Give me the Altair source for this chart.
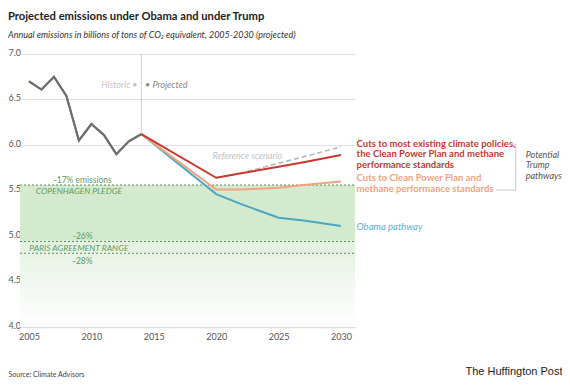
import altair as alt
import pandas as pd

# ---------------- data ----------------
hist_years = [2005, 2006, 2007, 2008, 2009, 2010, 2011, 2012, 2013, 2014]
hist_vals = [6.70, 6.61, 6.75, 6.54, 6.05, 6.23, 6.11, 5.90, 6.04, 6.12]

proj_years = [2014, 2020, 2022, 2025, 2027, 2030]
red_vals = [6.12, 5.64, 5.69, 5.76, 5.81, 5.89]
orange_vals = [6.12, 5.51, 5.51, 5.53, 5.56, 5.60]
obama_vals = [6.12, 5.46, 5.35, 5.20, 5.17, 5.11]

ref_years = [2020, 2022, 2025, 2027, 2030]
ref_vals = [5.64, 5.69, 5.80, 5.87, 5.98]

pledge_levels = [5.56, 4.94, 4.81]          # -17%, -26%, -28%
band_top, band_bottom = 5.56, 4.0

x_ticks = [2005, 2010, 2015, 2020, 2025, 2030]
y_ticks = [4.0, 4.5, 5.0, 5.5, 6.0, 6.5, 7.0]
x_domain = [2004.28, 2031.12]
y_domain = [4.0, 7.0]

W, H = 335, 273
FONT = "Lato"

# ---------------- frames ----------------
def series(years, vals, name):
    return pd.DataFrame({"year": years, "value": vals, "series": name})

hist_df = series(hist_years, hist_vals, "Historic")
red_df = series(proj_years, red_vals, "red")
orange_df = series(proj_years, orange_vals, "orange")
obama_df = series(proj_years, obama_vals, "obama")
ref_df = series(ref_years, ref_vals, "ref")

xs = alt.Scale(domain=x_domain, nice=False, zero=False)
ys = alt.Scale(domain=y_domain, nice=False, zero=False)

X = alt.X("year:Q", scale=xs, axis=alt.Axis(
    values=x_ticks, format="d", grid=False, ticks=False, domain=True,
    domainColor="#dcdcdc", domainWidth=1.5,
    labelFont=FONT, labelFontSize=9, labelColor="#555", labelPadding=5,
    title="Source: Climate Advisors", titleFont=FONT, titleFontSize=7,
    titleFontWeight="normal", titleColor="#444", titleAnchor="start",
    titleAlign="left", titleBaseline="middle", titleX=-12, titleY=47))
Y = alt.Y("value:Q", scale=ys, axis=alt.Axis(
    values=y_ticks, format=".1f", grid=True, gridColor="#e2e2e2", ticks=False,
    domain=False, labelFont=FONT, labelFontSize=9, labelColor="#555",
    labelAlign="left", labelPadding=12, labelBaseline="middle", labelOffset=-2,
    title="The Huffington Post", titleFont="Liberation Sans", titleFontSize=11,
    titleFontWeight="normal", titleColor="#222", titleAngle=0, titleAlign="right",
    titleBaseline="middle", titleX=542, titleY=317))

band_df = pd.DataFrame({"x0": [x_domain[0]], "x1": [x_domain[1]],
                        "y0": [band_top], "y1": [band_bottom]})
band = alt.Chart(band_df).mark_rect(
    color=alt.LinearGradient(
        gradient="linear", x1=0, x2=0, y1=0, y2=1,
        stops=[alt.GradientStop(color="#d4eacf", offset=0),
               alt.GradientStop(color="#d4eacf", offset=0.385),
               alt.GradientStop(color="#e4f1e1", offset=0.395),
               alt.GradientStop(color="#f2f8f1", offset=0.7),
               alt.GradientStop(color="#ffffff", offset=1)])
).encode(x=alt.X("x0:Q", scale=xs), x2="x1:Q",
         y=alt.Y("y0:Q", scale=ys), y2="y1:Q")

base = alt.Chart(hist_df).mark_line(color="#6e6e6e", strokeWidth=2).encode(x=X, y=Y)

pledge_df = pd.DataFrame({"y": pledge_levels, "x0": x_domain[0], "x1": x_domain[1]})
pledges = alt.Chart(pledge_df).mark_rule(
    color="#5f8a5f", strokeWidth=1, strokeDash=[2, 2]
).encode(x=alt.X("x0:Q", scale=xs), x2="x1:Q", y=alt.Y("y:Q", scale=ys))

divider_df = pd.DataFrame({"x": [2014], "y0": [7.0], "y1": [6.12]})
divider = alt.Chart(divider_df).mark_rule(color="#cfcfcf", strokeWidth=1).encode(
    x=alt.X("x:Q", scale=xs), y=alt.Y("y0:Q", scale=ys), y2="y1:Q")

def line(df, color, width=2, dash=None):
    kw = dict(color=color, strokeWidth=width)
    if dash:
        kw["strokeDash"] = dash
    return alt.Chart(df).mark_line(**kw).encode(
        x=alt.X("year:Q", scale=xs), y=alt.Y("value:Q", scale=ys))

obama_line = line(obama_df, "#4aa7c5")
orange_line = line(orange_df, "#f2a27e")
ref_line = line(ref_df, "#b4b4b4", 1.5, [5, 3])
red_line = line(red_df, "#c8392e")

def texts(xv, yv, labels, color, size=9, style="normal", weight="normal", align="left"):
    df = pd.DataFrame({"x": xv, "y": yv, "t": labels})
    return alt.Chart(df).mark_text(
        font=FONT, fontSize=size, fontStyle=style, fontWeight=weight,
        color=color, align=align, baseline="middle"
    ).encode(x=alt.X("x:Q", scale=xs), y=alt.Y("y:Q", scale=ys), text="t:N")

t_hist = texts([2013.7], [6.66], ["Historic •"], "#c4c4c4", style="italic", align="right")
t_proj = texts([2014.3], [6.66], ["• Projected"], "#888888", style="italic")
t_ref = texts([2019.7], [5.88], ["Reference scenario"], "#c4c4c4", style="italic")
t_green = texts([2009.3, 2009.3, 2009.3], [5.62, 5.00, 4.73],
                ["-17% emissions", "-26%", "-28%"], "#5f9a5f", size=8.5, align="center")
t_green_i = texts([2009.0, 2009.0], [5.495, 4.865],
                  ["COPENHAGEN PLEDGE", "PARIS AGREEMENT RANGE"], "#5f9a5f",
                  size=8.5, style="italic", align="center")
t_red = texts([2031.25] * 3, [6.01, 5.90, 5.78],
              ["Cuts to most existing climate policies,",
               "the Clean Power Plan and methane",
               "performance standards"], "#c8392e", size=9.5, weight="bold")
t_orange = texts([2031.25] * 2, [5.635, 5.515],
                 ["Cuts to Clean Power Plan and",
                  "methane performance standards"], "#f2a27e", size=9.5, weight="bold")
t_obama = texts([2031.25], [5.10], ["Obama pathway"], "#5ab0cb", size=9.5, style="italic")
t_trump = texts([2044.8] * 3, [5.89, 5.78, 5.66],
                ["Potential", "Trump", "pathways"], "#555555", size=9, style="italic")

bracket_df = pd.DataFrame({"x0": [2043.4, 2042.4, 2044.0],
                           "x1": [2044.0, 2044.0, 2044.0],
                           "y0": [6.01, 5.505, 6.01],
                           "y1": [6.01, 5.505, 5.505]})
bracket = alt.Chart(bracket_df).mark_rule(color="#c8c8c8", strokeWidth=1).encode(
    x=alt.X("x0:Q", scale=xs), x2="x1:Q", y=alt.Y("y0:Q", scale=ys), y2="y1:Q")

chart = alt.layer(
    base, band, pledges, divider, obama_line, orange_line, ref_line, red_line, base,
    t_hist, t_proj, t_ref, t_green, t_green_i, t_red, t_orange, t_obama, t_trump, bracket
).properties(
    width=W, height=H,
    autosize=alt.AutoSizeParams(type="none"),
    padding={"left": 12, "top": 46, "right": 554 - 12 - W, "bottom": 370 - 46 - H},
    title=alt.TitleParams(
        text="Projected emissions under Obama and under Trump",
        subtitle="Annual emissions in billions of tons of CO₂ equivalent, 2005-2030 (projected)",
        anchor="start", frame="group", dx=-12, offset=8,
        font=FONT, fontSize=11.2, fontWeight="bold", color="#222",
        subtitleFont=FONT, subtitleFontSize=9, subtitleFontStyle="italic",
        subtitleColor="#333", subtitlePadding=9)
).configure_view(stroke=None)

chart.save("out.html", embed_options={"renderer": "svg", "actions": False})
